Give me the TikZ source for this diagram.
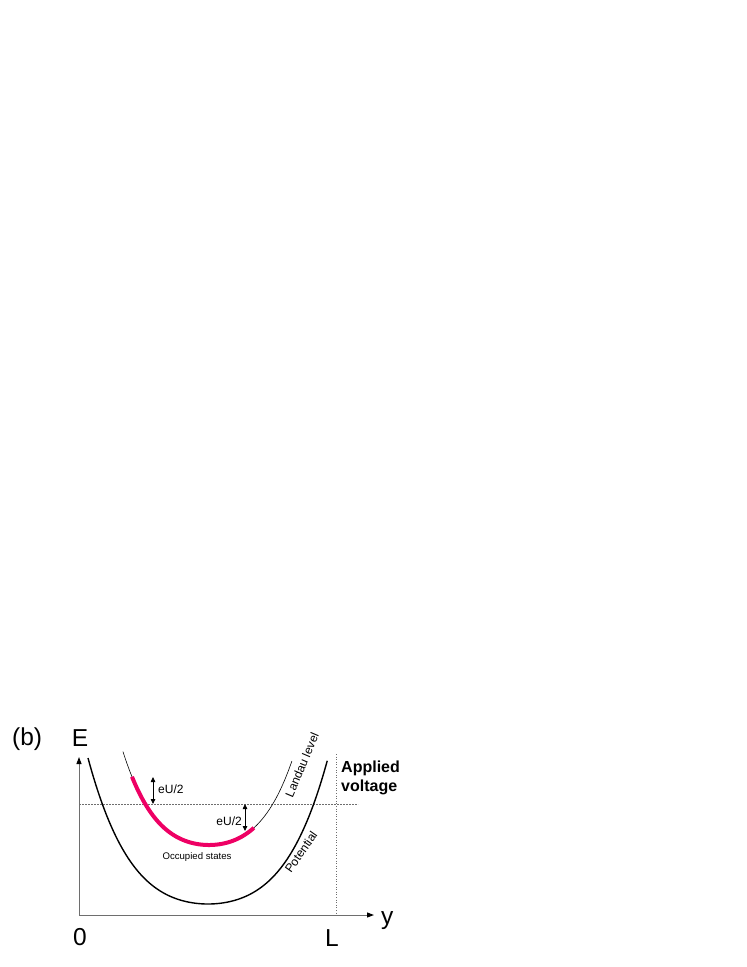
\documentclass[tikz,border=0pt]{standalone}
\usepackage{fontspec}
\setmainfont{Liberation Sans}
\usetikzlibrary{arrows.meta}
\definecolor{occpink}{RGB}{238,0,100}
\definecolor{axisgray}{RGB}{110,110,110}
\tikzset{
  lbl/.style={inner sep=0pt, font=\fontsize{24.5}{28}\selectfont},
  small/.style={inner sep=0pt, font=\fontsize{12}{14}\selectfont},
  tiny/.style={inner sep=0pt, font=\fontsize{9.6}{11}\selectfont},
  axisline/.style={draw=axisgray, line width=1pt, -{Triangle[length=7pt,width=5pt,fill=black,color=black]}},
  gap/.style={black, line width=0.8pt, {Triangle[length=5pt,width=4.5pt]}-{Triangle[length=5pt,width=4.5pt]}},
}
\begin{document}
\begin{tikzpicture}[x=1pt,y=-1pt]
\useasboundingbox (0,0) rectangle (747,967);
% coordinates
\coordinate (o) at (79,915);
\coordinate (ytop) at (79,757);
\coordinate (xend) at (374,915);
\coordinate (dl) at (79,804);
\coordinate (dr) at (358,804);
\coordinate (vt) at (336,754);
\coordinate (vb) at (336,915);
\coordinate (a1t) at (153,777);
\coordinate (a1b) at (153,804);
\coordinate (a2t) at (245,804);
\coordinate (a2b) at (245,831);
% reference lines
\draw[axisgray, line width=0.6pt, dash pattern=on 2pt off 1pt] (dl) -- (dr);
\draw[axisgray, line width=0.6pt, dotted] (vt) -- (vb);
% axes
\draw[axisline] (o) -- (ytop);
\draw[axisline] (o) -- (xend);
% potential
\draw[black, line width=1.4pt] plot[domain=-1:0.995, samples=120, smooth] ({208+120*\x},{904-(70*\x*\x+76*\x*\x*\x*\x)});
% Landau level
\draw[black, line width=0.6pt] plot[domain=-0.86:0.83, samples=120, smooth] ({209+100*\x},{845-(70*\x*\x+76*\x*\x*\x*\x)});
% occupied states
\draw[occpink, line width=4pt] plot[domain=-0.77:0.45, samples=100, smooth] ({209+100*\x},{845-(70*\x*\x+76*\x*\x*\x*\x)});
% eU/2 arrows
\draw[gap] (a1t) -- (a1b);
\draw[gap] (a2t) -- (a2b);
% labels
\node[lbl, anchor=base west] (b) at (12,745) {(b)};
\node[lbl, anchor=base] (E) at (80,746) {E};
\node[lbl, anchor=base] (zero) at (80,945) {0};
\node[lbl, anchor=base] (L) at (332,946) {L};
\node[lbl, anchor=base west] (yl) at (381,924) {y};
\node[small, anchor=base west] (e1) at (158,793) {eU/2};
\node[small, anchor=base east] (e2) at (242,825) {eU/2};
\node[tiny] (occ) at (197,857) {Occupied states};
\node[small, rotate=67] (lan) at (302,765) {Landau level};
\node[small, rotate=55] (pot) at (301,852) {Potential};
\node[inner sep=0pt, anchor=north west, align=left, font=\bfseries\fontsize{16}{19}\selectfont] (app) at (341,761) {Applied\\voltage};
\end{tikzpicture}
\end{document}
